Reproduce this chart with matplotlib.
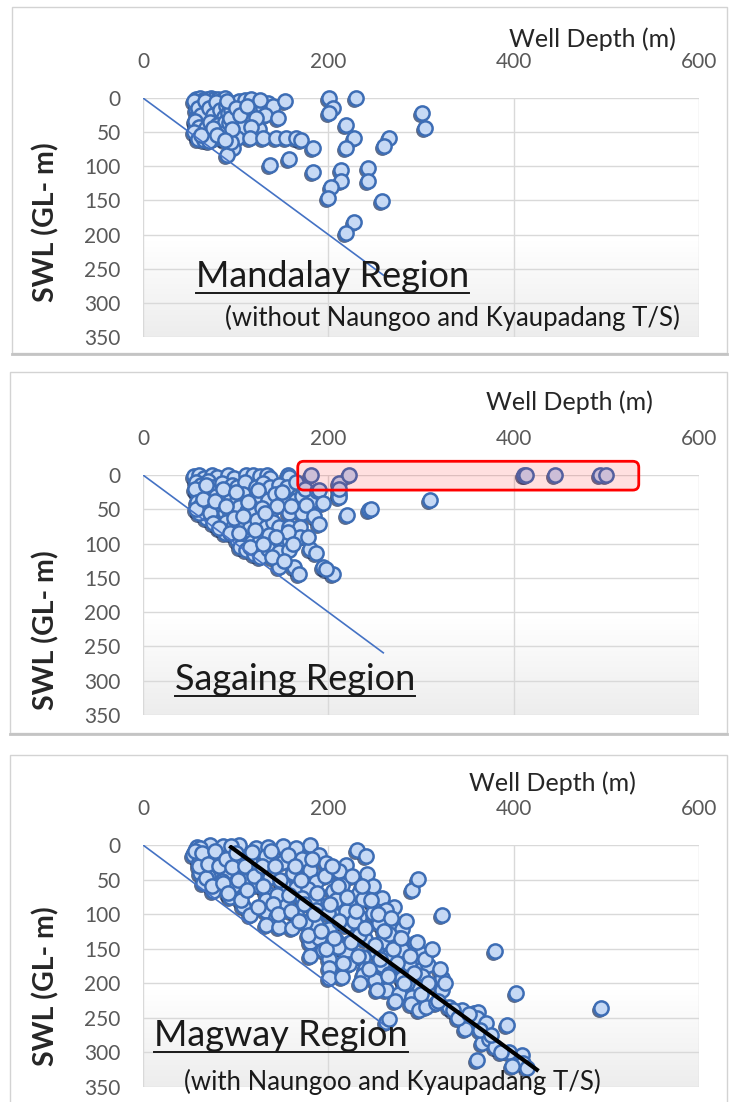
import matplotlib
matplotlib.use("Agg")
import matplotlib.pyplot as plt
import numpy as np
from matplotlib.patches import FancyBboxPatch, Rectangle
from matplotlib.lines import Line2D
from matplotlib.transforms import ScaledTranslation, IdentityTransform
from matplotlib.colors import LinearSegmentedColormap

plt.rcParams['font.family'] = ['Lato', 'DejaVu Sans']

W, H = 732, 1102

# ---------------- data ----------------
x_ticks = [0, 200, 400, 600]
y_ticks = [0, 50, 100, 150, 200, 250, 300, 350]
x_label = "Well Depth (m)"
y_label = "SWL (GL- m)"

mandalay_depth = [57, 61, 65, 69, 73, 77, 81, 85, 89,
                  58, 62, 66, 70, 74, 78, 83, 87,
                  57, 61, 65, 69, 73, 77, 81, 86,
                  58, 62, 66, 70, 74, 79, 84,
                  57, 61, 65, 69, 73, 78, 82,
                  58, 62, 66, 70, 75, 80,
                  59, 63, 67, 72, 76, 62, 67, 75,
                  55, 59, 63, 67, 71, 75, 79, 83, 87, 90, 56, 60, 64, 68, 72, 76, 80,
                  84, 88, 92, 55, 59, 66, 71, 98, 95, 85, 90, 93, 100, 104, 120, 130,
                  135, 140, 132, 106, 125, 112,
                  91, 110, 117, 126, 153, 201, 230, 205, 201, 301, 304, 146, 94, 122,
                  108, 117, 63, 75, 80, 219, 228, 219, 265, 260, 183, 137, 158, 183,
                  214, 214, 203, 200, 243, 243, 258, 228, 219, 101, 115, 129, 144, 154,
                  165, 171, 97, 91, 95, 100, 105, 112, 96, 88]
mandalay_swl = [2, 0, 3, 1, 0, 2, 1, 3, 0,
                9, 12, 8, 11, 9, 13, 10, 8,
                18, 21, 17, 20, 22, 19, 24, 18,
                28, 31, 27, 33, 29, 30, 27,
                38, 36, 41, 37, 40, 43, 38,
                47, 50, 46, 52, 48, 51,
                56, 58, 55, 57, 60, 54, 34, 36,
                5, 15, 25, 5, 15, 25, 6, 17, 28, 12, 33, 43, 52, 44, 35, 52, 40,
                47, 35, 22, 50, 60, 62, 63, 8, 18, 58, 50, 37, 30, 5, 10, 15,
                8, 12, 25, 55, 45, 35,
                4, 3, 2, 3, 4, 0, 0, 15, 22, 22, 44, 29, 29, 29,
                42, 42, 54, 44, 54, 40, 59, 73, 59, 70, 73, 98, 89, 108,
                105, 121, 130, 146, 103, 121, 151, 182, 198, 59, 59, 59, 59, 59,
                59, 62, 73, 84, 65, 15, 25, 12, 45, 62]

sagaing_depth = [55, 60, 66, 74, 80, 92, 98, 111, 119, 126, 134, 137, 157, 158,
                 57, 63, 70, 76, 85, 96, 101, 110, 122, 130, 137, 147, 155, 165,
                 58, 64, 71, 79, 88, 95, 101, 108, 119, 126, 135, 142, 151, 165, 172, 183,
                 60, 66, 72, 80, 88, 94, 104, 112, 119, 128, 137, 145, 158, 172, 176,
                 68, 76, 83, 90, 97, 106, 115, 123, 133, 140, 147, 158, 169,
                 88, 101, 111, 118, 126, 136, 147, 158, 169, 156,
                 105, 111, 120, 126, 135, 147, 158, 180, 187,
                 147, 163, 194, 168, 205, 198,
                 56, 58, 60, 62, 57, 65, 68, 72, 75, 78, 82, 86, 90, 94, 98, 100,
                 104, 108, 113, 116, 121, 124, 130, 132, 139, 143, 150, 152, 160,
                 162, 175, 178, 185,
                 212, 188, 212, 310, 244, 246, 220, 190, 212, 212, 190, 194,
                 181, 222, 411, 413, 445, 493, 500]
sagaing_swl = [2, 0, 4, 0, 3, 0, 5, 0, 0, 2, 0, 4, 0, 3,
               10, 14, 9, 17, 12, 15, 17, 10, 17, 12, 17, 14, 17, 10,
               25, 28, 22, 30, 26, 33, 37, 28, 37, 30, 37, 27, 37, 37, 30, 37,
               45, 50, 42, 48, 55, 56, 46, 52, 56, 48, 56, 45, 56, 56, 44,
               62, 66, 76, 68, 76, 70, 76, 66, 76, 68, 76, 76, 76,
               85, 95, 95, 97, 95, 88, 95, 95, 90, 83,
               105, 110, 115, 120, 108, 112, 110, 108, 114,
               134, 134, 134, 144, 144, 137,
               20, 40, 55, 45, 50, 35, 15, 55, 70, 38, 77, 20, 45, 85, 62, 25,
               85, 60, 40, 105, 80, 22, 100, 55, 120, 90, 25, 125, 45,
               100, 20, 90, 60,
               12, 24, 28, 37, 51, 50, 59, 71, 32, 20, 22, 41,
               0, 0, 0, 0, 0, 0, 0]

magway_depth = [58, 72, 86, 104, 122, 151, 180, 231, 62, 95, 135, 165,
                54, 65, 83, 104, 133, 151, 172, 190, 197, 219, 241, 60, 75, 115,
                61, 79, 97, 115, 137, 162, 180, 197, 212, 242, 70, 88,
                65, 76, 97, 111, 133, 151, 165, 187, 205, 215, 233, 248, 290, 297, 85, 123, 178,
                94, 108, 133, 154, 172, 194, 208, 222, 237, 248, 258, 271, 145, 185,
                115, 133, 144, 165, 187, 208, 219, 233, 248, 262, 323, 200,
                133, 147, 161, 187, 201, 219, 237, 255, 269, 280, 175, 228,
                180, 190, 208, 222, 240, 258, 276, 294, 233, 265,
                180, 194, 201, 219, 237, 251, 266, 280, 294, 301, 380, 210,
                201, 222, 240, 258, 273, 287, 301, 308,
                201, 215, 237, 266, 280, 301, 323, 250,
                262, 276, 298, 323, 403, 290, 285,
                289, 298, 305, 316, 344, 357, 362, 494, 330,
                262, 266, 348, 393, 360, 370,
                366, 373, 380,
                360, 403, 409, 410, 395,
                56, 60, 64, 68, 70, 74, 78, 82, 86, 90, 92, 96, 100, 102, 106, 110,
                112, 118, 120, 124, 128, 130, 138, 140, 142, 146, 148, 156, 158, 160,
                164, 168, 170, 174, 178, 182, 184, 188, 192, 196, 198, 202, 204, 206,
                210, 212, 216, 220, 224, 226, 230, 232, 234, 236, 240, 244, 246, 250,
                252, 254, 256, 260, 264, 268, 270, 272, 274, 278, 282, 284, 288, 292,
                296, 300, 304, 308, 312, 318, 320, 326, 334, 340, 352, 364, 376, 386,
                398, 414]
magway_swl = [3, 0, 2, 0, 4, 2, 0, 7, 5, 1, 3, 5,
              15, 20, 18, 22, 16, 24, 20, 14, 26, 29, 16, 25, 14, 25,
              40, 36, 44, 38, 46, 40, 36, 44, 38, 42, 45, 40,
              55, 66, 60, 52, 68, 56, 62, 54, 66, 58, 70, 60, 65, 49, 52, 58, 64,
              75, 88, 80, 84, 76, 88, 80, 86, 78, 84, 76, 89, 72, 82,
              101, 96, 104, 98, 94, 102, 96, 104, 98, 94, 101, 99,
              116, 118, 120, 114, 122, 116, 120, 113, 118, 122, 112, 110,
              140, 134, 138, 142, 136, 140, 134, 142, 130, 128,
              160, 152, 165, 156, 162, 154, 160, 152, 164, 158, 153, 148,
              178, 172, 180, 174, 178, 172, 180, 174,
              193, 191, 188, 186, 192, 190, 192, 195,
              210, 216, 206, 210, 214, 220, 200,
              230, 239, 234, 229, 239, 243, 241, 236, 235,
              256, 252, 266, 260, 250, 258,
              287, 280, 292,
              311, 311, 304, 316, 300,
              8, 30, 12, 48, 28, 60, 8, 30, 55, 20, 70, 32, 12, 50, 80, 30,
              65, 10, 45, 90, 30, 60, 8, 85, 30, 100, 50, 14, 72, 95,
              30, 110, 50, 85, 130, 20, 100, 70, 125, 45, 150, 85, 30, 135,
              60, 110, 170, 75, 140, 45, 95, 160, 200, 60, 120, 180, 80, 145,
              210, 100, 165, 125, 190, 105, 150, 225, 170, 135, 200, 110, 160, 185,
              140, 215, 165, 200, 150, 225, 180, 200, 238, 250, 245, 268, 275, 300,
              320, 322]

ref_line_depth = [0, 260]
ref_line_swl = [0, 260]
magway_trend_depth = [95, 425]
magway_trend_swl = [3, 325]
highlight_depth = [167, 535]
highlight_swl = [-20, 22]

titles = ["Mandalay Region", "Sagaing Region", "Magway Region"]
subtitles = ["(without Naungoo and Kyaupadang T/S)", None,
             "(with Naungoo and Kyaupadang T/S)"]

# ---------------- layout (pixels from top-left) ----------------
panels = [
    dict(box=(12, 7, 727, 353), ax=(143, 98, 699, 337), xl=(509, 47), yl=(46, 222),
         title=(196, 287), sub=(225, 326)),
    dict(box=(10, 372, 727, 733), ax=(143, 475, 699, 715), xl=(486, 410), yl=(46, 630),
         title=(175, 690), sub=None),
    dict(box=(10, 755, 727, 1110), ax=(143, 845, 699, 1087), xl=(469, 791), yl=(46, 986),
         title=(154, 1046), sub=(184, 1090)),
]
series = [(mandalay_depth, mandalay_swl), (sagaing_depth, sagaing_swl),
          (magway_depth, magway_swl)]

fig = plt.figure(figsize=(W / 100, H / 100), dpi=100)
fig.patch.set_facecolor('white')


def fx(x):
    return x / W


def fy(y):
    return 1 - y / H


grad_cmap = LinearSegmentedColormap.from_list(
    'bg', [(0, '#ffffff'), (0.6, '#ffffff'), (1.0, '#ededed')])

axes = []
title_texts = []
for i, p in enumerate(panels):
    bx0, by0, bx1, by1 = p['box']
    fig.add_artist(Rectangle((fx(bx0), fy(by1)), fx(bx1) - fx(bx0), fy(by0) - fy(by1),
                             transform=fig.transFigure, fill=False,
                             ec='#d3d3d3', lw=1.0, zorder=0))
    fig.add_artist(Line2D([fx(bx0), fx(bx1)], [fy(by1) - 0.001, fy(by1) - 0.001],
                          transform=fig.transFigure, color='#c4c4c4', lw=2.0, zorder=0))

    ax0, ay0, ax1, ay1 = p['ax']
    ax = fig.add_axes([fx(ax0), fy(ay1), fx(ax1) - fx(ax0), fy(ay0) - fy(ay1)])
    axes.append(ax)
    grad = np.linspace(0, 1, 256).reshape(-1, 1)
    ax.imshow(grad, extent=[0, 1, 0, 1], transform=ax.transAxes, aspect='auto',
              cmap=grad_cmap, origin='upper', zorder=0)
    ax.set_xlim(0, 600)
    ax.set_ylim(350, 0)
    ax.set_xticks(x_ticks)
    ax.set_yticks(y_ticks)
    ax.xaxis.tick_top()
    ax.tick_params(length=0, labelsize=15, labelcolor='#595959')
    ax.tick_params(axis='x', pad=19)
    ax.tick_params(axis='y', pad=16)
    for s in ax.spines.values():
        s.set_visible(False)
    ax.set_axisbelow(True)
    ax.grid(True, color='#d9d9d9', lw=1.0, zorder=1)

    xs, ys = series[i]
    shadow = ax.transData + ScaledTranslation(-0.02, -0.02, fig.dpi_scale_trans)
    ax.scatter(xs, ys, s=115, c='#1b2f58', alpha=0.7, lw=0, transform=shadow,
               zorder=3, clip_on=False)
    ax.scatter(xs, ys, s=105, facecolor='#c6d9f5', edgecolor='#3d6db5', lw=1.8,
               zorder=4, clip_on=False)
    ax.plot(ref_line_depth, ref_line_swl, color='#4472c4', lw=1.2, zorder=5,
            solid_capstyle='butt')
    if i == 2:
        ax.plot(magway_trend_depth, magway_trend_swl, color='black', lw=3.0, zorder=6)

    fig.text(fx(p['xl'][0]), fy(p['xl'][1]), x_label, fontsize=18, color='#262626',
             ha='left', va='baseline')
    fig.text(fx(p['yl'][0]), fy(p['yl'][1]), y_label, fontsize=20.5, color='#262626',
             rotation=90, ha='center', va='center', fontweight='bold')
    t = fig.text(fx(p['title'][0]), fy(p['title'][1]), titles[i], fontsize=26,
                 color='#1a1a1a', ha='left', va='baseline', zorder=10)
    title_texts.append((t, p['title'][1]))
    if p['sub'] is not None:
        fig.text(fx(p['sub'][0]), fy(p['sub'][1]), subtitles[i], fontsize=18.5,
                 color='#1a1a1a', ha='left', va='baseline', zorder=10)

fig.canvas.draw()
renderer = fig.canvas.get_renderer()
for t, base in title_texts:
    bb = t.get_window_extent(renderer)
    yline = fy(base + 6)
    fig.add_artist(Line2D([bb.x0 / W, bb.x1 / W], [yline, yline],
                          transform=fig.transFigure, color='#1a1a1a', lw=1.4, zorder=10))

# red highlight box in the Sagaing panel
ax = axes[1]
(x0d, y0d) = ax.transData.transform((highlight_depth[0], highlight_swl[0]))
(x1d, y1d) = ax.transData.transform((highlight_depth[1], highlight_swl[1]))
bx, by = min(x0d, x1d), min(y0d, y1d)
bw, bh = abs(x1d - x0d), abs(y1d - y0d)
fig.add_artist(FancyBboxPatch((bx, by), bw, bh,
                              boxstyle='round,pad=0,rounding_size=6',
                              transform=IdentityTransform(), fc=(1, 0, 0, 0.12),
                              ec='#ff0000', lw=2.0, zorder=20))

fig.savefig('out.png', dpi=100)
